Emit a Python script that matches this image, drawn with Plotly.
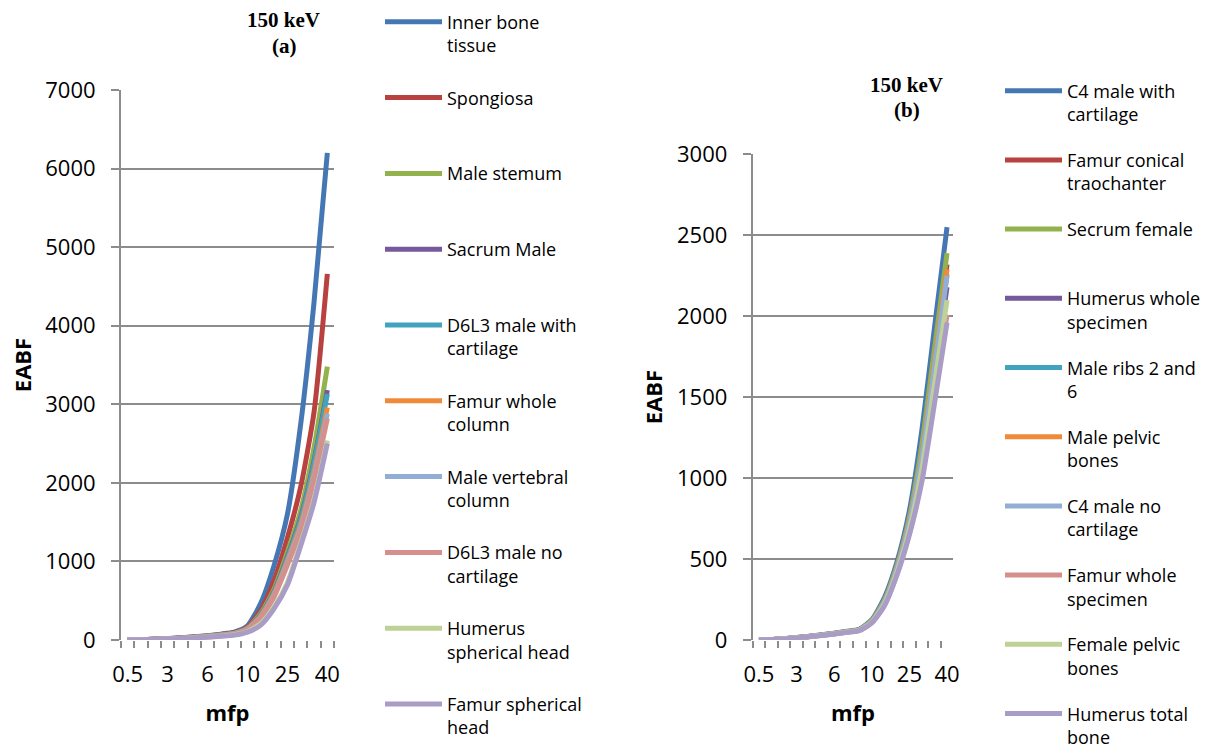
import plotly.graph_objects as go

mfp = ["0.5", "1", "2", "3", "4", "5", "6", "7", "8", "10", "15", "20", "25", "30", "35", "40"]
tick_labels = ["0.5", "", "", "3", "", "", "6", "", "", "10", "", "", "25", "", "", "40"]

names_a = ["Inner bone<br>tissue", "Spongiosa<br> ", "Male stemum<br> ", "Sacrum Male<br> ",
           "D6L3 male with<br>cartilage", "Famur whole<br>column", "Male vertebral<br>column",
           "D6L3 male no<br>cartilage", "Humerus<br>spherical head", "Famur spherical<br>head"]
inner_bone = [2, 4, 10, 18, 28, 40, 55, 75, 100, 180, 470, 950, 1600, 2750, 4300, 6200]
spongiosa = [2, 4, 9, 17, 26, 38, 52, 70, 94, 165, 380, 760, 1300, 1950, 2900, 4660]
male_stemum = [2, 4, 9, 16, 25, 36, 50, 66, 88, 155, 340, 650, 1120, 1650, 2450, 3480]
sacrum_male = [2, 4, 9, 16, 24, 35, 48, 64, 85, 150, 320, 615, 1060, 1560, 2280, 3180]
d6l3_with = [2, 4, 9, 16, 24, 35, 48, 63, 84, 148, 315, 605, 1045, 1535, 2250, 3130]
famur_column = [2, 4, 8, 15, 23, 34, 46, 61, 82, 145, 305, 590, 1010, 1470, 2140, 2960]
male_vertebral = [2, 4, 8, 15, 23, 33, 45, 60, 80, 140, 295, 570, 985, 1430, 2090, 2880]
d6l3_no = [2, 4, 8, 15, 22, 32, 44, 58, 78, 135, 285, 550, 955, 1390, 2040, 2820]
humerus_head = [1, 3, 7, 13, 20, 28, 38, 50, 66, 110, 210, 420, 730, 1230, 1790, 2540]
famur_head = [1, 3, 7, 12, 19, 27, 36, 48, 62, 100, 190, 400, 700, 1200, 1750, 2500]

names_b = ["C4 male with<br>cartilage", "Famur conical<br>traochanter", "Secrum female<br> ",
           "Humerus whole<br>specimen", "Male ribs 2 and<br>6", "Male pelvic<br>bones",
           "C4 male no<br>cartilage", "Famur whole<br>specimen", "Female pelvic<br>bones",
           "Humerus total<br>bone"]
c4_with = [1.5, 3, 8, 15, 23, 32, 42, 54, 66, 125, 260, 480, 800, 1300, 1930, 2550]
famur_conical = [1.5, 3, 8, 14, 22, 30, 40, 51, 63, 117, 240, 450, 740, 1170, 1740, 2320]
secrum_female = [1.5, 3, 8, 15, 22, 31, 41, 52, 64, 120, 246, 458, 760, 1210, 1800, 2390]
humerus_whole = [1.5, 3, 7.5, 14, 21, 30, 39, 50, 61, 112, 228, 430, 705, 1100, 1640, 2180]
male_ribs = [1.5, 3, 8, 14, 21, 30, 40, 51, 62, 115, 235, 440, 725, 1140, 1690, 2260]
male_pelvic = [1.5, 3, 8, 14, 22, 30, 40, 51, 63, 116, 237, 445, 735, 1150, 1710, 2290]
c4_no = [1.5, 3, 8, 14, 21, 30, 40, 50, 62, 115, 234, 438, 722, 1135, 1685, 2250]
famur_specimen = [1.4, 2.8, 7, 13, 20, 28, 37, 48, 59, 107, 214, 405, 660, 1000, 1500, 2010]
female_pelvic = [1.4, 2.9, 7.5, 14, 21, 29, 38, 49, 60, 110, 222, 418, 685, 1060, 1580, 2100]
humerus_total = [1.4, 2.8, 7, 13, 20, 28, 37, 47, 58, 105, 210, 400, 650, 980, 1460, 1960]

colors = ["#4677B5", "#B8423F", "#92B24E", "#76599A", "#42A3BE",
          "#F08A38", "#92AED4", "#D58F8D", "#BED297", "#A99CC6"]

series_a = [inner_bone, spongiosa, male_stemum, sacrum_male, d6l3_with,
            famur_column, male_vertebral, d6l3_no, humerus_head, famur_head]
series_b = [c4_with, famur_conical, secrum_female, humerus_whole, male_ribs,
            male_pelvic, c4_no, famur_specimen, female_pelvic, humerus_total]

W, H = 1209, 749
fig = go.Figure()
for i, (n, y) in enumerate(zip(names_a, series_a)):
    fig.add_trace(go.Scatter(x=mfp, y=y, name=n, mode="lines",
                             line=dict(color=colors[i], width=5, shape="spline", smoothing=0.6),
                             xaxis="x", yaxis="y", legend="legend", legendgroup="a%d" % i))
for i, (n, y) in enumerate(zip(names_b, series_b)):
    fig.add_trace(go.Scatter(x=mfp, y=y, name=n, mode="lines",
                             line=dict(color=colors[i], width=5, shape="spline", smoothing=0.6),
                             xaxis="x2", yaxis="y2", legend="legend2", legendgroup="b%d" % i))

grid = "#8C8C8C"
font = "Open Sans, DejaVu Sans, sans-serif"
xcommon = dict(type="category", tickmode="array", tickvals=mfp, ticktext=tick_labels,
               tickson="boundaries", ticks="outside", ticklen=7, tickwidth=2, tickcolor=grid,
               showgrid=False, showline=False, zeroline=False, tickangle=0, automargin=False,
               tickfont=dict(family=font, size=22, color="#000"), range=[-0.5, 15.5],
               ticklabelstandoff=19,
               title=dict(text="<b>mfp</b>", font=dict(family=font, size=22, color="#000"), standoff=18))
ycommon = dict(showgrid=True, gridcolor=grid, gridwidth=2, showline=True, linecolor=grid, linewidth=2,
               zeroline=False, ticks="outside", ticklen=8, tickwidth=2, tickcolor=grid, automargin=False,
               tickfont=dict(family=font, size=22, color="#000"), ticklabelstandoff=11,
               title=dict(text="<b>EABF</b>", font=dict(family=font, size=22, color="#000"), standoff=8))

legend_font = dict(family=font, size=18, color="#000")
title_font = dict(family="Liberation Serif, serif", size=21, color="#000")
fig.update_layout(
    width=W, height=H, margin=dict(l=0, r=0, t=0, b=0, autoexpand=False),
    paper_bgcolor="white", plot_bgcolor="white",
    xaxis=dict(domain=[121 / W, 334 / W], anchor="y", **xcommon),
    yaxis=dict(domain=[1 - 640 / H, 1 - 90 / H], anchor="x", range=[0, 7000], dtick=1000, **ycommon),
    xaxis2=dict(domain=[752.7 / W, 953.3 / W], anchor="y2", **xcommon),
    yaxis2=dict(domain=[1 - 640 / H, 1 - 154.3 / H], anchor="x2", range=[0, 3000], dtick=500, **ycommon),
    legend=dict(x=380 / W, xanchor="left", y=1 - 3.6 / H, yanchor="top", valign="top",
                font=legend_font, tracegroupgap=26, itemwidth=57, maxheight=1000,
                bgcolor="rgba(0,0,0,0)"),
    legend2=dict(x=1000 / W, xanchor="left", y=1 - 72.5 / H, yanchor="top", valign="top",
                 font=legend_font, tracegroupgap=19.4, itemwidth=57, maxheight=1000,
                 bgcolor="rgba(0,0,0,0)"),
    showlegend=True,
    annotations=[
        dict(text="<b>150 keV</b>", x=283.5 / W, y=1 - 20 / H, xref="paper", yref="paper",
             xanchor="center", yanchor="middle", showarrow=False, font=title_font),
        dict(text="<b>(a)</b>", x=284 / W, y=1 - 46 / H, xref="paper", yref="paper",
             xanchor="center", yanchor="middle", showarrow=False, font=title_font),
        dict(text="<b>150 keV</b>", x=906.7 / W, y=1 - 85 / H, xref="paper", yref="paper",
             xanchor="center", yanchor="middle", showarrow=False, font=title_font),
        dict(text="<b>(b)</b>", x=906.7 / W, y=1 - 110 / H, xref="paper", yref="paper",
             xanchor="center", yanchor="middle", showarrow=False, font=title_font),
    ],
)
fig.write_html("out.html")
